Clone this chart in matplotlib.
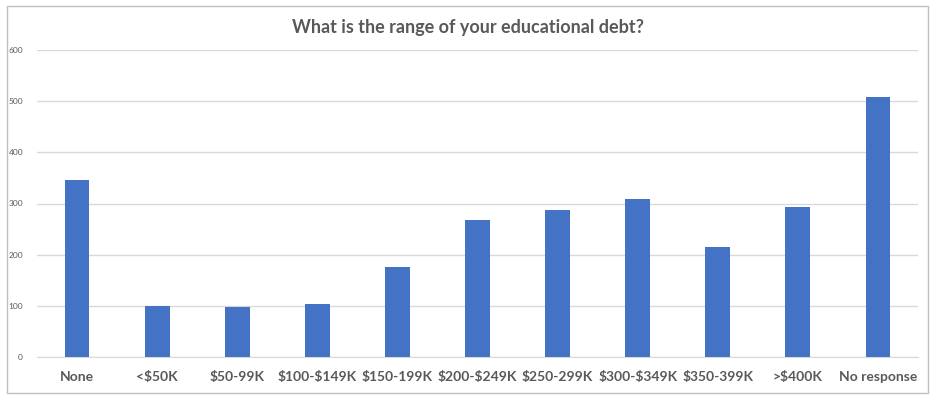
import matplotlib
matplotlib.use('Agg')
import matplotlib.pyplot as plt
from matplotlib.patches import Rectangle

# données
categories = ['None', '<$50K', '$50-99K', '$100-$149K', '$150-199K', '$200-$249K',
              '$250-299K', '$300-$349K', '$350-399K', '>$400K', 'No response']
valeurs = [346, 99, 98, 104, 175, 268, 287, 308, 215, 293, 509]
graduations = [0, 100, 200, 300, 400, 500, 600]

plt.rcParams['font.family'] = ['Lato', 'DejaVu Sans']
plt.rcParams['text.parse_math'] = False  # les $ restent des $

fig = plt.figure(figsize=(9.36, 4.0), dpi=100)
fig.patch.set_facecolor('white')

# cadre de la zone graphique façon Excel
fig.add_artist(Rectangle((7/936, 1-393/400), 921/936, 387/400, transform=fig.transFigure,
                         fill=False, edgecolor='#BFBFBF', lw=1.0))

ax = fig.add_axes([37/936, 1-357/400, 881/936, 307/400])
x = range(len(categories))
ax.bar(x, valeurs, width=0.31, color='#4472C4', zorder=3)

ax.set_xlim(-0.5, len(categories)-0.5)
ax.set_ylim(0, 600)
ax.set_yticks(graduations)
ax.set_yticklabels([str(g) for g in graduations], fontsize=6, color='#595959')
ax.set_xticks(list(x))
ax.set_xticklabels(categories, fontsize=10, fontweight='bold', color='#595959')
ax.tick_params(axis='both', length=0)
ax.tick_params(axis='x', pad=10)
ax.tick_params(axis='y', pad=10)
ax.grid(axis='y', color='#D9D9D9', lw=1.0, zorder=0)
for c in ['top', 'right', 'left']:
    ax.spines[c].set_visible(False)
ax.spines['bottom'].set_color('#D9D9D9')

fig.text(0.5, 1-27/400, 'What is the range of your educational debt?', ha='center', va='center',
         fontsize=13, fontweight='bold', color='#595959')

fig.savefig('out.png', dpi=100)
